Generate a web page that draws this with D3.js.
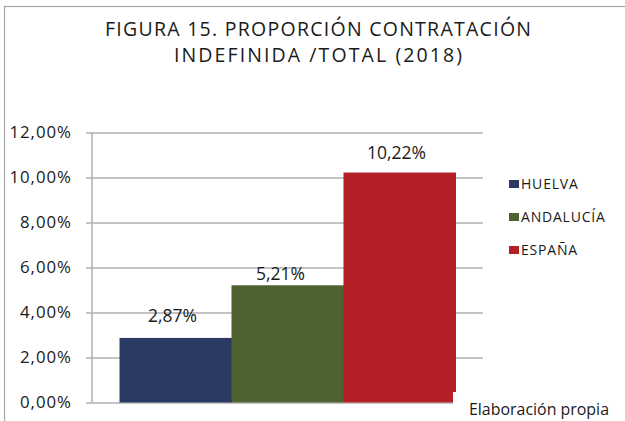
<!DOCTYPE html>
<html>
<head>
<meta charset="utf-8">
<script src="https://cdn.jsdelivr.net/npm/d3@7"></script>
<style>
  html, body { margin: 0; padding: 0; background: #fff; }
  svg { display: block; font-family: "Open Sans", "Noto Sans", sans-serif; }
</style>
</head>
<body>
<div id="chart"></div>
<script>
const titleLines = ['FIGURA 15. PROPORCIÓN CONTRATACIÓN', 'INDEFINIDA /TOTAL (2018)'];
const series     = ['HUELVA', 'ANDALUCÍA', 'ESPAÑA'];
const values     = [2.87, 5.21, 10.22];
const colors     = ['#2b3a63', '#4e6131', '#b31f24'];
const yTicks     = [0, 2, 4, 6, 8, 10, 12];
const source     = 'Elaboración propia';

const W = 625, H = 421;
const plot = { left: 92, right: 483, top: 132.5, bottom: 402.5 };

const fmt = v => v.toFixed(2).replace('.', ',') + '%';

const svg = d3.select('#chart').append('svg').attr('width', W).attr('height', H);

// outer frame (right/bottom edges fall outside the picture)
svg.append('rect')
  .attr('x', 4.5).attr('y', 6.5).attr('width', W + 20).attr('height', H + 20)
  .attr('fill', '#fff').attr('stroke', '#a6a6a6').attr('stroke-width', 1.2);

// title
const titleLen = [426, 288];
titleLines.forEach((t, i) => {
  svg.append('text')
    .attr('x', 318).attr('y', 35.5 + i * 26.7)
    .attr('text-anchor', 'middle')
    .attr('font-size', '19.5px').attr('fill', '#1a1a1a')
    .attr('textLength', titleLen[i]).attr('lengthAdjust', 'spacing')
    .text(t);
});

const y = d3.scaleLinear().domain([0, 12]).range([plot.bottom, plot.top]);

const x0 = d3.scaleBand().domain(['2018']).range([plot.left, plot.right])
  .paddingInner(0.0757).paddingOuter(0.0757);
const x1 = d3.scaleBand().domain(series).range([0, x0.bandwidth()]);

// gridlines + tick marks + labels
const axis = d3.axisLeft(y).tickValues(yTicks)
  .tickSize(-(plot.right - plot.left + 6)).tickPadding(14)
  .tickFormat(fmt);

const gAxis = svg.append('g')
  .attr('transform', `translate(${plot.left - 6},0)`)
  .call(axis);
gAxis.select('.domain').remove();
gAxis.selectAll('.tick line').attr('stroke', '#b0b0b0').attr('stroke-width', 1.5);
gAxis.selectAll('.tick text')
  .attr('font-size', '16.8px').attr('fill', '#1a1a1a')
  .attr('letter-spacing', '1px')
  .attr('font-family', '"Open Sans", "Noto Sans", sans-serif');

// vertical axis line
svg.append('line')
  .attr('x1', plot.left).attr('x2', plot.left)
  .attr('y1', y(12)).attr('y2', y(0))
  .attr('stroke', '#b0b0b0').attr('stroke-width', 1.5);

// bars
const gBars = svg.append('g').attr('transform', `translate(${x0('2018')},0)`);
gBars.selectAll('rect').data(values).join('rect')
  .attr('x', (d, i) => x1(series[i]))
  .attr('width', x1.bandwidth() + 0.5)
  .attr('y', d => y(d))
  .attr('height', d => y(0) - y(d))
  .attr('fill', (d, i) => colors[i]);

// data labels (hand-placed in the original, nudged a little)
const labelDx = [-3, -7, -3];
const labelGap = [16, 5, 14];
gBars.selectAll('text.lbl').data(values).join('text')
  .attr('class', 'lbl')
  .attr('x', (d, i) => x1(series[i]) + x1.bandwidth() / 2 + labelDx[i])
  .attr('y', (d, i) => y(d) - labelGap[i])
  .attr('text-anchor', 'middle')
  .attr('font-size', '17.5px').attr('fill', '#1a1a1a')
  .text(fmt);

// legend
const leg = svg.append('g').attr('transform', 'translate(509,180)');
series.forEach((s, i) => {
  const g = leg.append('g').attr('transform', `translate(0,${i * 33})`);
  g.append('rect').attr('width', 10).attr('height', 8).attr('fill', colors[i]);
  g.append('text').attr('x', 12).attr('y', 8.5)
    .attr('font-size', '14px').attr('fill', '#1a1a1a')
    .attr('letter-spacing', '0.8px')
    .text(s);
});

// source note sits in a white box that clips the bottom of the last bar
svg.append('rect')
  .attr('x', 453).attr('y', 392).attr('width', W - 453).attr('height', H - 392)
  .attr('fill', '#fff');
svg.append('text')
  .attr('x', 469).attr('y', 415)
  .attr('font-size', '15.5px').attr('fill', '#1a1a1a')
  .attr('textLength', 140).attr('lengthAdjust', 'spacingAndGlyphs')
  .text(source);
</script>
</body>
</html>
